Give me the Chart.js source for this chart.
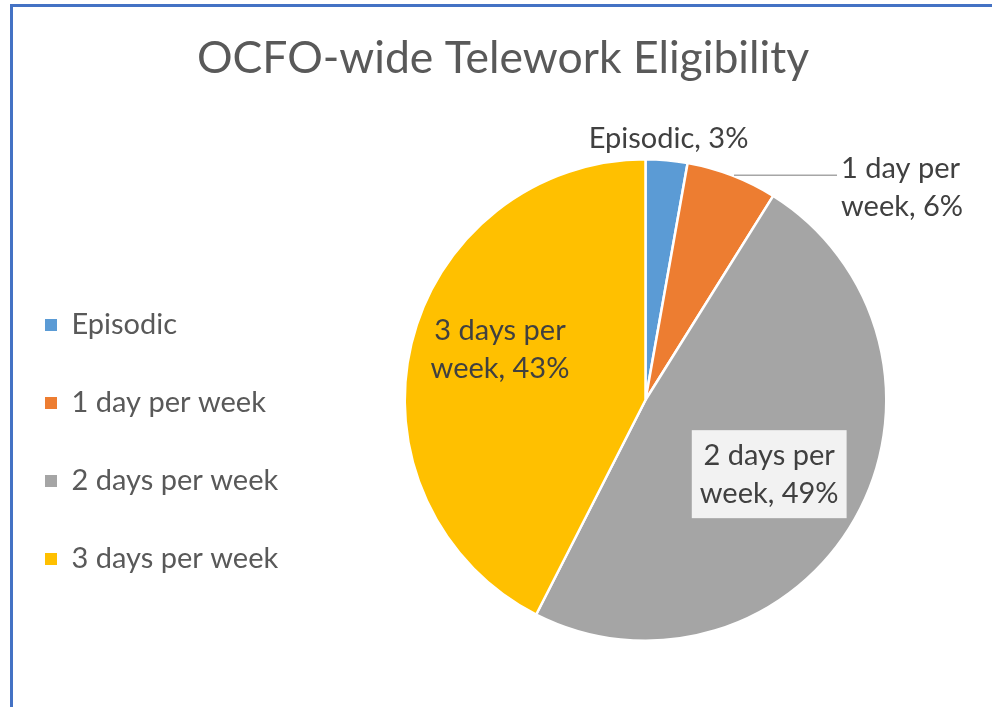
<!DOCTYPE html>
<html>
<head>
<meta charset="utf-8">
<script src="https://cdn.jsdelivr.net/npm/chart.js@4"></script>
<style>
  html, body { margin: 0; padding: 0; width: 992px; height: 707px; overflow: hidden; background: #ffffff; }
  #frame { position: absolute; left: 10px; top: 4px; width: 1000px; height: 720px;
           border-top: 3px solid #4472C4; border-left: 3px solid #4472C4; box-sizing: border-box; }
  #wrap { position: absolute; left: -4px; top: 0px; width: 1030px; height: 707px; }
</style>
</head>
<body>
<div id="frame"></div>
<div id="wrap"><canvas id="c"></canvas></div>
<script>
// ---- data ----
const chartTitle = 'OCFO-wide Telework Eligibility';
const categories = ['Episodic', '1 day per week', '2 days per week', '3 days per week'];
const shares = [2.8, 6.1, 48.6, 42.5];
const sliceColors = ['#5B9BD5', '#ED7D31', '#A5A5A5', '#FFC000'];

const FONT = 'Lato, "Open Sans", sans-serif';

function pctText(i) {
  const total = shares.reduce((a, b) => a + b, 0);
  return Math.round(shares[i] / total * 100) + '%';
}
function labelLines(i, oneLine) {
  if (oneLine) return [categories[i] + ', ' + pctText(i)];
  const words = categories[i].split(' ');
  const last = words.pop();
  return [words.join(' '), last + ', ' + pctText(i)];
}

const sliceLabels = {
  id: 'sliceLabels',
  afterDatasetsDraw(chart, args, opts) {
    const ctx = chart.ctx;
    const meta = chart.getDatasetMeta(0);
    ctx.save();
    ctx.font = opts.fontSize + 'px ' + FONT;
    ctx.fillStyle = opts.color;
    ctx.textBaseline = 'middle';
    meta.data.forEach((arc, i) => {
      const cfg = opts.items[i];
      const p = arc.getProps(['x', 'y', 'startAngle', 'endAngle', 'outerRadius'], true);
      const mid = (p.startAngle + p.endAngle) / 2;
      const lines = labelLines(i, cfg.oneLine);
      const lh = opts.lineHeight;
      if (cfg.mode === 'outside') {
        const r = p.outerRadius + cfg.gap;
        const x = p.x + Math.cos(mid) * r;
        const y = p.y + Math.sin(mid) * r;
        ctx.textAlign = 'center';
        lines.forEach((t, k) => ctx.fillText(t, x, y + (k - (lines.length - 1) / 2) * lh));
      } else if (cfg.mode === 'leader') {
        const ax = p.x + Math.cos(mid) * p.outerRadius;
        const ay = p.y + Math.sin(mid) * p.outerRadius;
        ctx.save();
        ctx.strokeStyle = opts.leaderColor;
        ctx.lineWidth = 1.5;
        ctx.beginPath();
        ctx.moveTo(ax + 2, ay);
        ctx.lineTo(ax + cfg.lineLen, ay);
        ctx.stroke();
        ctx.restore();
        const tx = ax + cfg.lineLen + cfg.textGap;
        const ty = ay + cfg.dy;
        ctx.textAlign = 'left';
        lines.forEach((t, k) => ctx.fillText(t, tx, ty + (k - (lines.length - 1) / 2) * lh));
      } else {
        const r = p.outerRadius * cfg.r;
        const x = p.x + Math.cos(mid) * r + (cfg.dx || 0);
        const y = p.y + Math.sin(mid) * r + (cfg.dy || 0);
        ctx.textAlign = 'center';
        if (cfg.box) {
          const w = Math.max(...lines.map(t => ctx.measureText(t).width)) + 2 * cfg.boxPadX;
          const h = lines.length * lh + 2 * cfg.boxPadY;
          ctx.save();
          ctx.fillStyle = cfg.box;
          ctx.fillRect(x - w / 2, y - h / 2, w, h);
          ctx.restore();
        }
        lines.forEach((t, k) => ctx.fillText(t, x, y + (k - (lines.length - 1) / 2) * lh));
      }
    });
    ctx.restore();
  }
};

new Chart(document.getElementById('c'), {
  type: 'pie',
  data: {
    labels: categories,
    datasets: [{
      data: shares,
      backgroundColor: sliceColors,
      borderColor: '#ffffff',
      borderWidth: 2.5
    }]
  },
  plugins: [sliceLabels],
  options: {
    responsive: true,
    maintainAspectRatio: false,
    animation: false,
    layout: { padding: { top: 0, right: 16, bottom: 65, left: 0 } },
    plugins: {
      tooltip: { enabled: false },
      title: {
        display: true,
        text: chartTitle,
        color: '#595959',
        font: { family: FONT, size: 44.5, weight: 'normal', lineHeight: 1.2 },
        padding: { top: 32, bottom: 72.6 }
      },
      legend: {
        display: true,
        position: 'left',
        fullSize: false,
        maxWidth: 285,
        align: 'center',
        title: { display: true, text: '', font: { size: 10, lineHeight: 1 }, padding: { top: 74, bottom: 0 } },
        labels: {
          boxWidth: 12,
          boxHeight: 12,
          padding: 49,
          color: '#595959',
          font: { family: FONT, size: 29 },
          generateLabels(chart) {
            return Chart.overrides.pie.plugins.legend.labels.generateLabels(chart)
              .map(l => Object.assign(l, { lineWidth: 0, strokeStyle: 'rgba(0,0,0,0)' }));
          }
        },
        onClick: null
      },
      sliceLabels: {
        fontSize: 29,
        lineHeight: 38,
        color: '#404040',
        leaderColor: '#A6A6A6',
        items: [
          { mode: 'outside', gap: 22, oneLine: true },
          { mode: 'leader', lineLen: 105, textGap: 4, dy: 12 },
          { mode: 'inside', r: 0.6, box: '#F2F2F2', boxPadX: 8, boxPadY: 6, dy: 3, dx: -2 },
          { mode: 'inside', r: 0.63, dx: 2, dy: -15 }
        ]
      }
    }
  }
});
</script>
</body>
</html>
